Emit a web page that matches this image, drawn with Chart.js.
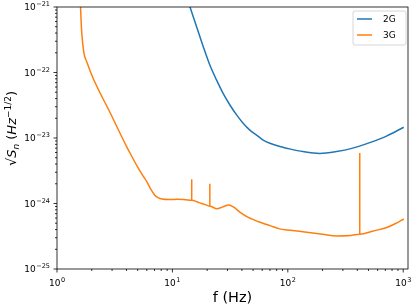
<!DOCTYPE html>
<html>
<head>
<meta charset="utf-8">
<script src="https://cdn.jsdelivr.net/npm/chart.js@4.4.1/dist/chart.umd.min.js"></script>
<style>
  body { margin: 0; background: #fff; }
  #wrap { width: 416px; height: 307px; }
</style>
</head>
<body>
<div id="wrap"><canvas id="asdChart" width="416" height="307"></canvas></div>
<script>
// Noise curves, values (Hz, strain/sqrt(Hz))
const freq2G = [13, 14.2, 16.2, 18.5, 21.1, 24.1, 27.5, 31.5, 36, 41, 46.9, 53.6, 61.1, 69.9, 85.3, 97.3,
  135, 189, 264, 365, 513, 716, 1010];
const asd2G = [1.6e-21, 1.0e-21, 5.0e-22, 2.48e-22, 1.3e-22, 7.7e-23, 4.8e-23, 3.19e-23, 2.25e-23, 1.68e-23,
  1.32e-23, 1.11e-23, 9.3e-24, 8.3e-24, 7.4e-24, 7.0e-24, 6.2e-24, 5.8e-24, 6.2e-24, 7.0e-24, 8.5e-24,
  1.07e-23, 1.46e-23];

const freq3G = [1.59, 1.60, 1.64, 1.71, 1.81, 2.06, 2.88, 4.01, 4.29, 5.0, 5.6, 6.0, 6.5, 7.0, 7.5, 8.1,
  9.5, 11, 13, 14.7, 14.7, 14.7, 17, 19, 21.1, 21.1, 21.1, 24.3, 27, 30.8, 34, 38.4, 45, 60.8, 70, 85, 100,
  135, 200, 266, 350, 420, 420, 420, 550, 720, 850, 1010];
const asd3G = [1.5e-21, 1.0e-21, 3.95e-22, 2.0e-22, 1.46e-22, 8.1e-23, 2.45e-23, 7.4e-24, 5.9e-24, 3.6e-24,
  2.6e-24, 2.15e-24, 1.65e-24, 1.35e-24, 1.23e-24, 1.17e-24,
  1.15e-24, 1.16e-24, 1.14e-24, 1.12e-24, 2.35e-24, 1.12e-24, 1.03e-24, 9.7e-25, 9.1e-25, 2.0e-24, 9.1e-25,
  8.3e-25, 8.8e-25, 9.5e-25, 8.8e-25, 7.4e-25, 6.2e-25, 5.0e-25, 4.6e-25, 4.1e-25, 3.95e-25,
  3.7e-25, 3.4e-25, 3.2e-25, 3.25e-25, 3.4e-25, 5.9e-24, 3.4e-25, 3.8e-25, 4.3e-25, 4.9e-25, 5.8e-25];

const seriesLabels = ['2G', '3G'];
const seriesColors = ['#1f77b4', '#ff7f0e'];

// ticks: decade values and their exponents
const xTickValues = [1, 10, 100, 1000];
const xTickExps = ['0', '1', '2', '3'];
const yTickValues = [1e-25, 1e-24, 1e-23, 1e-22, 1e-21];
const yTickExps = ['\u221225', '\u221224', '\u221223', '\u221222', '\u221221'];

const xTitle = 'f (Hz)';

const FONT = '"DejaVu Sans", sans-serif';

function toPoints(xs, ys) {
  return xs.map((x, i) => ({ x: x, y: ys[i] }));
}

function minorTicks(majors, min, max) {
  const out = [];
  majors.forEach(m => {
    for (let k = 2; k <= 9; k++) {
      const v = m * k;
      if (v > min && v < max) out.push(v);
    }
  });
  return out;
}

// "10" with a raised exponent, x is left edge
function drawPow(ctx, x, base, exp) {
  ctx.font = '9px ' + FONT;
  ctx.fillText('10', x, base);
  const w = ctx.measureText('10').width;
  ctx.font = '6.5px ' + FONT;
  ctx.fillText(exp, x + w + 0.5, base - 4.3);
}

function powWidth(ctx, exp) {
  ctx.font = '9px ' + FONT;
  const w = ctx.measureText('10').width;
  ctx.font = '6.5px ' + FONT;
  return w + 0.5 + ctx.measureText(exp).width;
}

const axesPlugin = {
  id: 'mplAxes',
  afterDatasetsDraw(chart) {
    const ctx = chart.ctx;
    const ca = chart.chartArea;
    const xs = chart.scales.x, ys = chart.scales.y;
    ctx.save();
    ctx.fillStyle = '#000';
    ctx.strokeStyle = '#000';
    ctx.lineWidth = 0.8;

    // frame
    ctx.strokeRect(ca.left, ca.top, ca.right - ca.left, ca.bottom - ca.top);

    // x ticks
    ctx.beginPath();
    xTickValues.forEach(v => {
      const px = xs.getPixelForValue(v);
      ctx.moveTo(px, ca.bottom); ctx.lineTo(px, ca.bottom + 3.5);
    });
    minorTicks(xTickValues, xs.min, xs.max).forEach(v => {
      const px = xs.getPixelForValue(v);
      ctx.moveTo(px, ca.bottom); ctx.lineTo(px, ca.bottom + 2);
    });
    // y ticks
    yTickValues.forEach(v => {
      const py = ys.getPixelForValue(v);
      ctx.moveTo(ca.left, py); ctx.lineTo(ca.left - 3.5, py);
    });
    minorTicks(yTickValues, ys.min, ys.max).forEach(v => {
      const py = ys.getPixelForValue(v);
      ctx.moveTo(ca.left, py); ctx.lineTo(ca.left - 2, py);
    });
    ctx.stroke();

    // tick labels
    ctx.textBaseline = 'alphabetic';
    ctx.textAlign = 'left';
    xTickValues.forEach((v, i) => {
      const px = xs.getPixelForValue(v);
      const w = powWidth(ctx, xTickExps[i]);
      drawPow(ctx, px - w / 2, ca.bottom + 17, xTickExps[i]);
    });
    yTickValues.forEach((v, i) => {
      const py = ys.getPixelForValue(v);
      const w = powWidth(ctx, yTickExps[i]);
      drawPow(ctx, ca.left - 7 - w, py + 3.3, yTickExps[i]);
    });

    // x title
    ctx.font = '14.5px ' + FONT;
    ctx.textAlign = 'center';
    ctx.fillText(xTitle, (ca.left + ca.right) / 2, 302);

    // y title, rotated
    const parts = [
      { t: '\u221A', f: '13px ' + FONT, dy: 0 },
      { t: 'S', f: 'italic 13px ' + FONT, dy: 0 },
      { t: 'n', f: 'italic 9px ' + FONT, dy: 2.5 },
      { t: ' (', f: '13px ' + FONT, dy: 0 },
      { t: 'Hz', f: 'italic 13px ' + FONT, dy: 0 },
      { t: '\u22121/2', f: '9px ' + FONT, dy: -5 },
      { t: ')', f: '13px ' + FONT, dy: 0 }
    ];
    let total = 0;
    parts.forEach(p => { ctx.font = p.f; p.w = ctx.measureText(p.t).width; total += p.w; });
    ctx.translate(16, (ca.top + ca.bottom) / 2 - 9.5);
    ctx.rotate(-Math.PI / 2);
    ctx.textAlign = 'left';
    let cx = -total / 2;
    parts.forEach(p => {
      ctx.font = p.f;
      ctx.fillText(p.t, cx, p.dy);
      cx += p.w;
    });
    ctx.restore();

    // legend box, upper right
    ctx.save();
    const lx = ca.right - 55, ly = ca.top + 4, lw = 53, lh = 34;
    ctx.beginPath();
    ctx.roundRect(lx, ly, lw, lh, 2);
    ctx.fillStyle = 'rgba(255,255,255,0.8)';
    ctx.fill();
    ctx.strokeStyle = '#cccccc';
    ctx.lineWidth = 0.8;
    ctx.stroke();
    chart.data.datasets.forEach((ds, i) => {
      const yy = ly + 8 + i * 16;
      ctx.beginPath();
      ctx.strokeStyle = ds.borderColor;
      ctx.lineWidth = 1.5;
      ctx.moveTo(lx + 4, yy); ctx.lineTo(lx + 19, yy);
      ctx.stroke();
      ctx.fillStyle = '#000';
      ctx.font = '9px ' + FONT;
      ctx.textAlign = 'left';
      ctx.fillText(ds.label, lx + 30, yy + 3.3);
    });
    ctx.restore();
  }
};

const ctx = document.getElementById('asdChart').getContext('2d');

const asdChart = new Chart(ctx, {
  type: 'line',
  data: {
    datasets: [{
      label: seriesLabels[0],
      data: toPoints(freq2G, asd2G),
      borderColor: seriesColors[0],
      borderWidth: 1.5,
      pointRadius: 0,
      cubicInterpolationMode: 'monotone',
      fill: false
    }, {
      label: seriesLabels[1],
      data: toPoints(freq3G, asd3G),
      borderColor: seriesColors[1],
      borderWidth: 1.5,
      pointRadius: 0,
      cubicInterpolationMode: 'monotone',
      fill: false
    }]
  },
  options: {
    responsive: false,
    animation: false,
    devicePixelRatio: 1,
    layout: { padding: { top: 7, right: 8, left: 0, bottom: 0 } },
    plugins: {
      legend: { display: false },
      tooltip: { enabled: false }
    },
    scales: {
      x: {
        type: 'logarithmic',
        min: 1,
        max: 1100,
        ticks: { display: false },
        grid: { display: false },
        border: { display: false },
        afterFit: s => { s.height = 38; }
      },
      y: {
        type: 'logarithmic',
        min: 1e-25,
        max: 1e-21,
        ticks: { display: false },
        grid: { display: false },
        border: { display: false },
        afterFit: s => { s.width = 57; }
      }
    }
  },
  plugins: [axesPlugin]
});
</script>
</body>
</html>
